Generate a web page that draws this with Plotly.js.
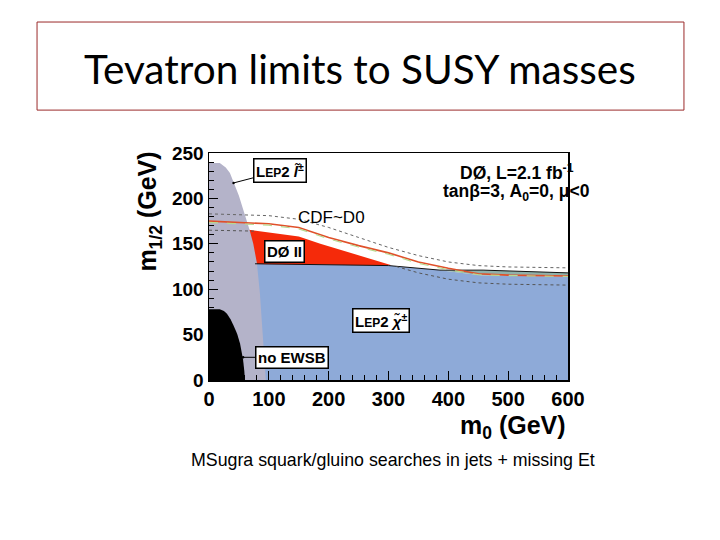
<!DOCTYPE html>
<html><head><meta charset="utf-8">
<script src="https://cdn.plot.ly/plotly-3.0.1.min.js"></script>
<style>body{margin:0;background:#fff}#c{width:720px;height:540px}</style>
</head><body><div id="c"></div>
<script>
// ---- data (GeV) ----
const lepChargX = [0, 77, 300, 386, 458, 600, 600, 0];
const lepChargY = [128, 128, 126, 121, 115, 114, 0, 0];
const tealX = [386, 458, 600, 600, 458, 386];
const tealY = [121, 121, 118, 114, 115, 121];
const d0X = [60, 71, 110, 150, 186, 241, 305, 300, 77, 60];
const d0Y = [166, 165, 162, 158, 150, 139.5, 126.5, 126, 128, 128];
const lepSlepX = [0, 0, 18, 28, 35, 41, 50, 57, 63, 68, 74, 80, 85, 91, 95];
const lepSlepY = [0, 239, 239, 234, 228, 218, 203, 188, 176, 165, 150, 129, 96, 40, 0];
const noEwsbX = [0, 0, 18, 25, 30, 36, 41, 47, 52, 55, 57, 59, 60];
const noEwsbY = [0, 78, 78, 76, 73, 67, 60, 51, 40, 30, 22, 10, 0];
const edgeX = [77, 300, 386, 458, 600];
const edgeY = [128, 126, 121, 121, 118];
const upperX = [0, 100, 150, 200, 250, 300, 350, 400, 450, 500, 600];
const upperY = [183, 181, 177, 168, 157, 146, 137, 130, 126, 124.5, 123.5];
const expX = [0, 100, 150, 200, 250, 300, 350, 400, 450, 500, 600];
const expY = [175, 172, 168, 157, 148, 140, 130, 123, 117, 115.5, 114.5];
const expGY = [173.5, 170.5, 166.5, 155.5, 146.5, 138.5, 128.5, 121.5, 116, 115, 114];
const lowerX = [0, 70, 75, null, 313, 350, 400, 450, 500, 600];
const lowerY = [165, 164, 164, null, 125, 118, 111, 107, 105.5, 104.5];
const xTicks = [0, 100, 200, 300, 400, 500, 600];
const yTicks = [0, 50, 100, 150, 200, 250];

const fillT = (x, y, c) => ({x, y, type:'scatter', mode:'lines', fill:'toself', fillcolor:c,
  line:{width:0, color:c}, hoverinfo:'skip', showlegend:false});
const lineT = (x, y, c, w, d) => ({x, y, type:'scatter', mode:'lines',
  line:{width:w, color:c, dash:d}, hoverinfo:'skip', showlegend:false, connectgaps:false});

const traces = [
  fillT(lepChargX, lepChargY, '#8eaad8'),
  fillT(tealX, tealY, '#8fb1aa'),
  fillT(d0X, d0Y, '#f52a0a'),
  fillT(lepSlepX, lepSlepY, '#b4b3c9'),
  fillT(noEwsbX, noEwsbY, '#000000'),
  lineT(edgeX, edgeY, '#111', 1, 'solid'),
  lineT(upperX, upperY, '#666', 1, 'dot'),
  lineT(lowerX, lowerY, '#555', 1, 'dot'),
  lineT(expX, expY, '#e0502a', 1.6, 'solid'),
  lineT(expX, expGY, '#b8d890', 1.2, 'dash')
];

const boxA = (x, y, t, extra) => Object.assign({x, y, xref:'x', yref:'y', text:t, showarrow:false,
  bgcolor:'#fff', bordercolor:'#000', borderwidth:1.5, borderpad:1.5,
  font:{family:'Liberation Sans, Arial', size:15, color:'#000', weight:'bold'}}, extra||{});
const sm = '<span style="font-size:12px">EP</span>';

const layout = {
  width:720, height:540, paper_bgcolor:'#fff', plot_bgcolor:'#fff',
  margin:{l:209, r:152, t:153, b:160},
  xaxis:{range:[0,600], tickvals:xTicks, ticks:'inside', ticklen:9, tickcolor:'#000',
    showline:true, linecolor:'#000', linewidth:1.5, mirror:true, showgrid:false, zeroline:false,
    tickfont:{family:'Liberation Sans, Arial', size:20, color:'#000', weight:'bold'},
    minor:{dtick:20, ticks:'inside', ticklen:5, tickcolor:'#000', showgrid:false}},
  yaxis:{range:[0,250], tickvals:yTicks, ticks:'inside', ticklen:9, tickcolor:'#000',
    showline:true, linecolor:'#000', linewidth:1.5, mirror:true, showgrid:false, zeroline:false,
    tickfont:{family:'Liberation Sans, Arial', size:19, color:'#000', weight:'bold'},
    minor:{dtick:10, ticks:'inside', ticklen:5, tickcolor:'#000', showgrid:false}},
  shapes:[{type:'rect', xref:'paper', yref:'paper', x0:-0.479, x1:1.323, y0:1.189, y1:1.577,
    line:{color:'#9a2a2a', width:1}, fillcolor:'rgba(0,0,0,0)'}],
  annotations:[
    {xref:'paper', yref:'paper', x:0.4206, y:1.374, xanchor:'center', yanchor:'middle',
      text:'Tevatron limits to SUSY masses', showarrow:false,
      font:{family:'Lato, Noto Sans', size:40.5, color:'#000'}},
    {xref:'paper', yref:'paper', x:-0.167, y:0.742, xanchor:'center', yanchor:'middle', textangle:-90,
      text:'m<sub>1/2</sub> (GeV)', showarrow:false,
      font:{family:'Liberation Sans, Arial', size:25, color:'#000', weight:'bold'}},
    {xref:'paper', yref:'paper', x:1, xanchor:'right', y:-0.205, yanchor:'middle',
      text:'m<sub>0</sub> (GeV)', showarrow:false,
      font:{family:'Liberation Sans, Arial', size:25, color:'#000', weight:'bold'}},
    {xref:'paper', yref:'paper', x:0.5125, y:-0.352, xanchor:'center', yanchor:'middle',
      text:'MSugra squark/gluino searches in jets + missing Et', showarrow:false,
      font:{family:'Liberation Sans, Arial', size:17.8, color:'#000'}},
    {xref:'x', yref:'y', x:204, y:179, text:'CDF~D0', showarrow:false,
      font:{family:'Liberation Sans, Arial', size:17, color:'#000'}},
    {xref:'x', yref:'y', x:514, y:229, text:'DØ, L=2.1 fb<sup>-1</sup>', showarrow:false,
      font:{family:'Liberation Sans, Arial', size:17.5, color:'#000', weight:'bold'}},
    {xref:'x', yref:'y', x:514, y:207, text:'tanβ=3, A<sub>0</sub>=0, μ<0', showarrow:false,
      font:{family:'Liberation Sans, Arial', size:17.5, color:'#000', weight:'bold'}},
    boxA(41, 217, 'L' + sm + '2 <i>l̃</i><sup>±</sup>',
      {showarrow:true, ax:46, ay:-12, arrowhead:6, arrowsize:0.6, arrowwidth:1, arrowcolor:'#000'}),
    boxA(126, 141, 'DØ II'),
    boxA(288, 65.5, 'L' + sm + '2 <i>χ̃</i><sup>±</sup>'),
    boxA(57, 25, 'no EWSB',
      {showarrow:true, ax:49, ay:0, arrowhead:6, arrowsize:0.6, arrowwidth:1, arrowcolor:'#000'})
  ]
};
Plotly.newPlot('c', traces, layout, {staticPlot:true, displayModeBar:false});
</script></body></html>
